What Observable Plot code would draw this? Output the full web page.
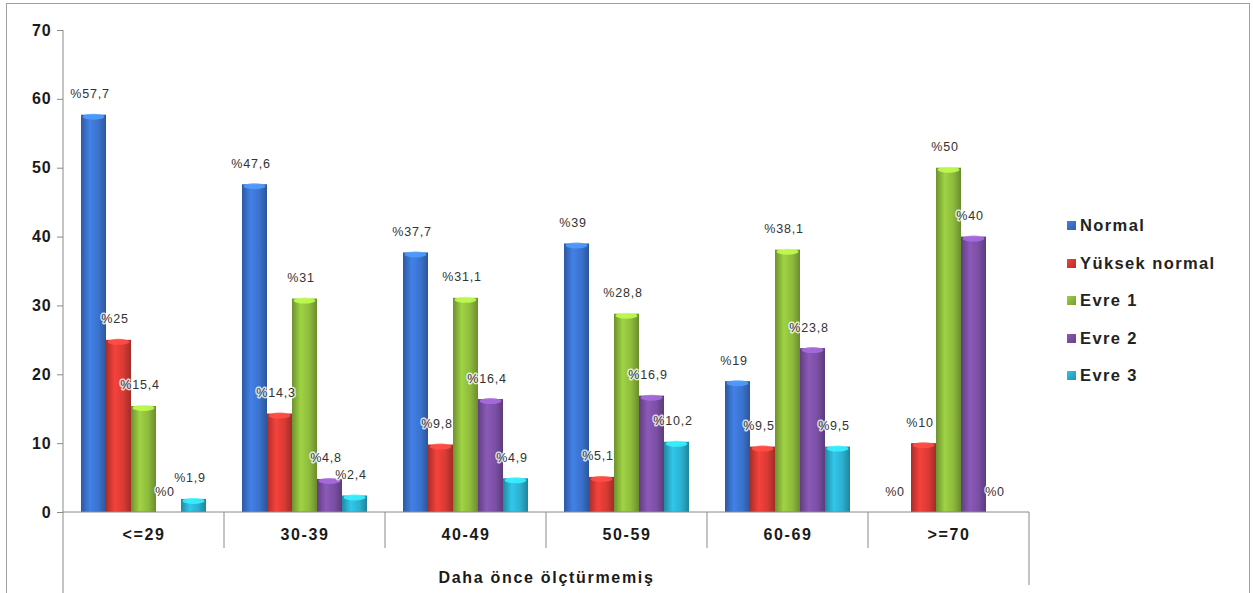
<!DOCTYPE html>
<html><head><meta charset="utf-8">
<script src="https://cdn.jsdelivr.net/npm/d3@7"></script>
<script src="https://cdn.jsdelivr.net/npm/@observablehq/plot@0.6"></script>
<style>
body{margin:0;background:#fff;font-family:"Liberation Sans",Arial,sans-serif;}
#wrap{position:relative;width:1253px;height:593px;overflow:hidden;}
#border{position:absolute;left:6px;top:3px;width:1242px;height:620px;border:1px solid #a0a0a0;}
#chart{position:absolute;left:0;top:0;}
#legend{position:absolute;left:1067px;top:207px;}
.item{display:flex;align-items:center;height:37.5px;font-weight:bold;font-size:16.5px;color:#222;letter-spacing:1.4px;}
.sw{width:9px;height:9px;margin-right:4px;}
svg [aria-label="fx-axis tick label"] text{letter-spacing:1.6px;}
svg [aria-label="fx-axis label"] text{letter-spacing:1.7px;}
svg [aria-label="text"] text{letter-spacing:0.8px;}
svg [aria-label="y-axis tick label"] text{letter-spacing:0.8px;}
</style></head><body>
<div id="wrap"><div id="border"></div><div id="chart"></div><div id="legend"></div></div>
<script>
const categories = ["<=29", "30-39", "40-49", "50-59", "60-69", ">=70"];
const series = ["Normal", "Yüksek normal", "Evre 1", "Evre 2", "Evre 3"];
const normal = [57.7, 47.6, 37.7, 39, 19, 0];
const yuksekNormal = [25, 14.3, 9.8, 5.1, 9.5, 10];
const evre1 = [15.4, 31, 31.1, 28.8, 38.1, 50];
const evre2 = [0, 4.8, 16.4, 16.9, 23.8, 40];
const evre3 = [1.9, 2.4, 4.9, 10.2, 9.5, 0];
const colors = ["#3a72cc", "#d83a34", "#8dba3c", "#7b4fa3", "#2bb0cf"];
const yTicks = [0, 10, 20, 30, 40, 50, 60, 70];
const xTitle = "Daha önce ölçtürmemiş";

const values = [normal, yuksekNormal, evre1, evre2, evre3];
const rows = categories.flatMap((c, i) => series.map((s, j) => ({cat: c, series: s, idx: j, value: values[j][i]})));
const fmt = v => "%" + String(v).replace(".", ",");

const plot = Plot.plot({
  width: 1253, height: 593,
  marginLeft: 62, marginRight: 223, marginTop: 30, marginBottom: 81,
  style: {fontFamily: "'Liberation Sans', Arial, sans-serif", background: "transparent"},
  fx: {domain: categories, padding: 0, label: null},
  x: {domain: series, paddingInner: 0, paddingOuter: 0.64, axis: null},
  y: {domain: [0, 70], axis: null},
  color: {domain: series, range: series.map((s, i) => `url(#grad${i})`)},
  marks: [
    Plot.barY(rows, {fx: "cat", x: "series", y: "value", fill: "series"}),
    Plot.text(rows, {fx: "cat", x: "series", y: "value", text: d => fmt(d.value), dy: -21, dx: -4,
      fontSize: 12.5, fill: "#333", stroke: "white", strokeWidth: 3, strokeOpacity: 0.8}),
    Plot.axisY({ticks: yTicks, tickSize: 6, tickPadding: 6, fontSize: 16, fontWeight: "bold",
      label: null, stroke: "#8a8a8a", fill: "#1a1a1a"}),
    Plot.axisFx({anchor: "bottom", tickSize: 0, tickPadding: 16, fontSize: 16, fontWeight: "bold", fill: "#1a1a1a",
      label: xTitle, labelAnchor: "center", labelOffset: 70})
  ]
});
document.getElementById("chart").appendChild(plot);

const svg = d3.select(plot);
const defs = svg.insert("defs", ":first-child");
colors.forEach((c, i) => {
  const g = defs.append("linearGradient").attr("id", "grad" + i)
    .attr("x1", 0).attr("x2", 1).attr("y1", 0).attr("y2", 0);
  g.append("stop").attr("offset", "0%").attr("stop-color", d3.color(c).darker(0.7));
  g.append("stop").attr("offset", "35%").attr("stop-color", d3.color(c).brighter(0.35));
  g.append("stop").attr("offset", "70%").attr("stop-color", c);
  g.append("stop").attr("offset", "100%").attr("stop-color", d3.color(c).darker(0.8));
});

// top highlight on each bar
svg.selectAll("g[aria-label='bar'] rect").each(function() {
  const r = d3.select(this);
  const h = +r.attr("height");
  if (!(h > 0.5)) return;
  const fill = r.attr("fill") || "";
  const m = fill.match(/grad(\d)/);
  const c = m ? colors[+m[1]] : "#fff";
  d3.select(this.parentNode).append("ellipse")
    .attr("cx", +r.attr("x") + +r.attr("width") / 2)
    .attr("cy", +r.attr("y") + 2)
    .attr("rx", +r.attr("width") / 2 - 1.5)
    .attr("ry", 3)
    .attr("fill", d3.color(c).brighter(0.9))
    .attr("opacity", 0.85);
});

// axis lines and category separators
const fx = plot.scale("fx");
const y = plot.scale("y");
const y0 = y.apply(0);
const bw = fx.bandwidth;
const bounds = categories.map(c => fx.apply(c)).concat([fx.apply(categories[categories.length - 1]) + bw]);
const lines = svg.append("g").attr("stroke", "#8a8a8a").attr("stroke-width", 1);
lines.append("line").attr("x1", bounds[0]).attr("x2", bounds[bounds.length - 1]).attr("y1", y0).attr("y2", y0);
lines.append("line").attr("x1", bounds[0]).attr("x2", bounds[0]).attr("y1", y.apply(70)).attr("y2", 593);
bounds.slice(1, -1).forEach(b => lines.append("line").attr("x1", b).attr("x2", b).attr("y1", y0).attr("y2", y0 + 36));
const last = bounds[bounds.length - 1];
lines.append("line").attr("x1", last).attr("x2", last).attr("y1", y0).attr("y2", y0 + 73);

// legend
const legend = d3.select("#legend");
series.forEach((s, i) => {
  const it = legend.append("div").attr("class", "item");
  it.append("div").attr("class", "sw").style("background", `linear-gradient(135deg, ${d3.color(colors[i]).brighter(0.3)}, ${d3.color(colors[i]).darker(0.5)})`);
  it.append("span").text(s);
});
</script></body></html>
